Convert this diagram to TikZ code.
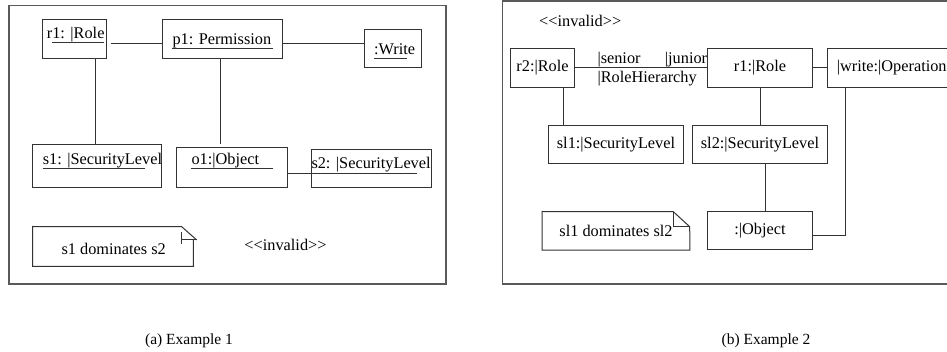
\documentclass[tikz,border=0pt]{standalone}
\usepackage{fontspec}
\setmainfont{Liberation Serif}
\newcommand\umlfont{\fontsize{16.3pt}{19pt}\selectfont}
\newcommand\capfont{\fontsize{15.5pt}{18pt}\selectfont}
\newcommand\invalidtag{<\kern0pt<invalid>\kern0pt>}
\tikzset{
  ln/.style={draw=black!80, line width=1pt},
  frm/.style={draw=black!65, line width=1.2pt},
  box/.style={draw=black!80, line width=1pt, rectangle, inner sep=0pt},
  ghost/.style={rectangle, inner sep=0pt},
  txt/.style={inner sep=0pt, font=\umlfont},
  captxt/.style={inner sep=0pt, font=\capfont},
}
\begin{document}
\begin{tikzpicture}[x=1pt, y=-1pt]
\useasboundingbox (0,0) rectangle (947,352);

% ---------- (a) Example 1 ----------
\draw[frm] (9,5.3) rectangle (446,284);

\node[box, minimum width=64.4pt, minimum height=38.6pt] (r1) at (74.5,39) {};
\node[box, minimum width=120.4pt, minimum height=38.6pt] (p1) at (222.5,39) {};
\node[box, minimum width=57.7pt, minimum height=38.7pt] (wa) at (392.85,48.65) {};
\node[box, minimum width=129pt, minimum height=43pt] (s1) at (97.2,166.2) {};
\node[box, minimum width=110.6pt, minimum height=40pt] (o1) at (232,167.7) {};
\node[box, minimum width=120pt, minimum height=38pt] (s2) at (371.3,168.7) {};

\node[txt, anchor=base west] (r1t) at (46.7,38.8) {r1: |Role};
\node[txt, anchor=base west] (p1t) at (172.3,44.3) {p1: Permission};
\node[txt, anchor=base west] (wat) at (374,54.3) {:Write};
\node[txt, anchor=base west] (s1t) at (42.7,164.3) {s1: |SecurityLevel};
\node[txt, anchor=base west] (o1t) at (191.3,164.3) {o1:|Object};
\node[txt, anchor=base west] (s2t) at (311.3,169) {s2: |SecurityLevel};

% underlined object names
\draw[ln] (52,42.7) -- (104,42.7);
\draw[ln] (172.3,48.7) -- (272.7,48.7);
\draw[ln] (374,58.3) -- (407,58.3);
\draw[ln] (42.7,168.7) -- (145,168.7);
\draw[ln] (191.3,168.7) -- (272.7,168.7);
\draw[ln] (311.3,173.3) -- (416.7,173.3);

% links
\draw[ln] ([xshift=3.3pt,yshift=-4.3pt]r1.east) -- ([yshift=-4.3pt]p1.west);
\draw[ln] ([yshift=-4.3pt]p1.east) coordinate (pa) -- (pa -| wa.west);
\draw[ln] ([xshift=21.2pt]r1.south) coordinate (ra) -- (ra |- s1.north);
\draw[ln] ([xshift=-2.5pt]p1.south) coordinate (pb) -- ([yshift=3pt]pb |- o1.north);
\draw[ln] ([yshift=-5.6pt]o1.east) coordinate (oa) -- (oa -| s2.west);

% constraint note
\node[ghost, minimum width=160.6pt, minimum height=39.6pt] (na) at (113,246.5) {};
\draw[ln] (193.3,240) -- (na.south east) -- (na.south west) -- (na.north west)
  -- (181.7,226.7) -- (196.7,240);
\draw[ln] (181.7,240) -- (196.7,240);
\draw[ln] (181.7,232.3) -- (181.7,244.3);
\node[txt] (nat) at (113.7,249.3) {s1 dominates s2};

\node[txt] (inva) at (285.5,245) {\invalidtag};

% ---------- (b) Example 2 ----------
\draw[frm] (502.3,1) rectangle (965,284);

\node[txt] (invb) at (580.2,20.7) {\invalidtag};

\node[box, txt, minimum width=64.4pt, minimum height=38.6pt] (r2) at (542.5,68) {r2:|Role};
\node[box, txt, minimum width=105.4pt, minimum height=38.6pt] (r1b) at (760,68) {r1:|Role};
\node[box, minimum width=142.7pt, minimum height=38.6pt] (wr) at (898.65,68) {};
\node[txt, anchor=west] (wrt) at (836.7,68) {|write:|Operation};
\node[box, txt, minimum width=134.6pt, minimum height=38.3pt] (sl1) at (616,144.85) {sl1:|SecurityLevel};
\node[box, txt, minimum width=134.6pt, minimum height=38.3pt] (sl2) at (760,144.85) {sl2:|SecurityLevel};
\node[box, txt, minimum width=105.4pt, minimum height=38.3pt] (ob) at (760,230.85) {:|Object};

% role hierarchy link and its labels
\draw[ln] (r2.east) -- (r1b.west);
\node[txt, anchor=base west] (sen) at (597.3,63.3) {|senior};
\node[txt, anchor=base west] (jun) at (664.7,63.3) {|junior};
\node[txt, anchor=base west] (rh) at (597.3,82.5) {|RoleHierarchy};

% other links
\draw[ln] (r1b.east) -- (wr.west);
\draw[ln] ([xshift=20.8pt]r2.south) coordinate (rb) -- (rb |- sl1.north);
\draw[ln] (r1b.south) -- (sl2.north);
\draw[ln] ([xshift=5pt]sl2.south) -- ([xshift=5pt]ob.north);
\draw[ln] ([yshift=-4.85pt]ob.east) -| ([xshift=19pt]wr.south west);

% constraint note
\node[ghost, txt, minimum width=147.4pt, minimum height=38.3pt] (nb) at (616,230.85) {sl1 dominates sl2};
\draw[ln] (nb.north west) -- (673.3,211.7) -- (689.7,226.7) -- (nb.south east)
  -- (nb.south west) -- cycle;
\draw[ln] (673.3,211.7) -- (673.3,226.7) -- (689.7,226.7);

% ---------- captions ----------
\node[captxt] (capa) at (189,341) {(a) Example 1};
\node[captxt] (capb) at (766,341) {(b) Example 2};
\end{tikzpicture}
\end{document}
